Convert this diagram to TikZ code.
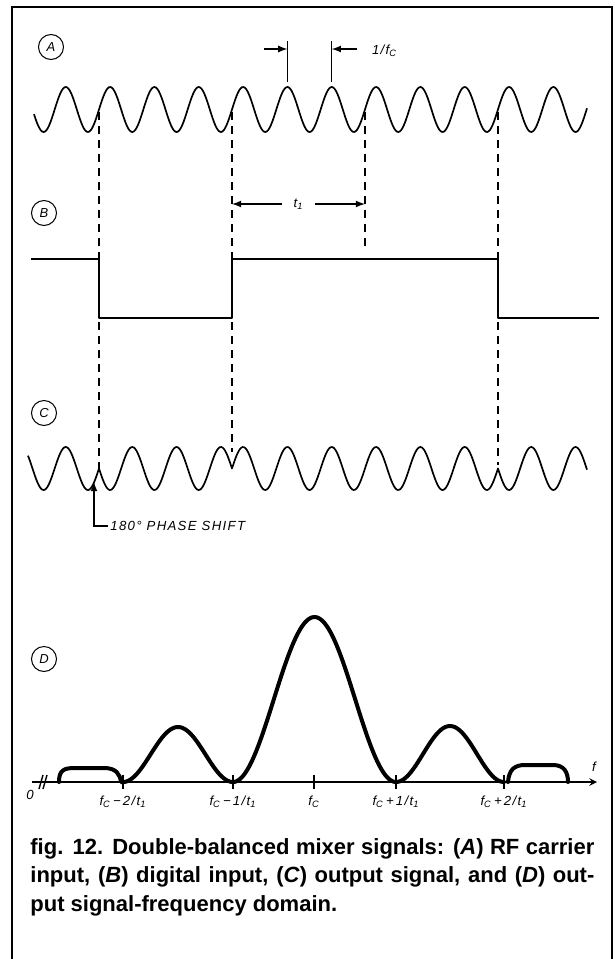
\documentclass[tikz,border=0pt]{standalone}
\usepackage{fontspec}
\setmainfont{Liberation Sans}
\newfontfamily\lblfont[LetterSpace=10]{Liberation Sans}
\usetikzlibrary{arrows, positioning, calc}
\tikzstyle{frame}=[line width=1pt]
\tikzstyle{wave}=[line width=0.85pt, line join=round]
\tikzstyle{guide}=[line width=0.6pt, dash pattern=on 4pt off 3pt]
\tikzstyle{spec}=[line width=2pt, line join=round, line cap=round]
\tikzstyle{axis}=[line width=0.7pt]
\tikzstyle{dim}=[line width=0.6pt, >=latex]
\tikzstyle{tag}=[draw, circle, line width=0.5pt, minimum size=12.5pt, inner sep=0pt,
  font=\lblfont\itshape\fontsize{6.5}{6.5}\selectfont]
\tikzstyle{lbl}=[font=\lblfont\itshape\fontsize{6.6}{7.5}\selectfont, inner sep=1pt]
\def\per{44.33}
\def\xo{99}

\begin{document}
\begin{tikzpicture}[x=0.5pt, y=-0.5pt]
      \useasboundingbox (0,0) rectangle (615,959);
      \draw[frame] (12,959) -- (12,7) -- (612,7) -- (612,959);

      % (A) carrier
      \node[tag] (tagA) at (51,47) {A};
      \draw[wave] plot[domain=34:587, samples=400]
        (\x,{109.5-22.5*sin(360/\per*(\x-\xo))});

      \coordinate (pk1) at (287.4,82);
      \coordinate (pk2) at (331.7,82);
      \draw[dim] (pk1) -- ++(0,-41);
      \draw[dim] (pk2) -- ++(0,-41);
      \draw[dim,->] ($(pk1)+(-23,-33)$) -- ($(pk1)+(0,-33)$);
      \draw[dim,->] ($(pk2)+(25,-33)$) -- ($(pk2)+(0,-33)$);
      \node[lbl, right=0pt] (period) at ($(pk2)+(38,-31)$) {1/f\textsubscript{C}};

      % guides
      \foreach \gx/\gy in {99/468, 232/452, 365/247, 498/465}
      \draw[guide] (\gx,112) -- (\gx,\gy);

      % (B) digital input
      \node[tag] (tagB) at (44,213) {B};
      \draw[wave] (31,259) -- (99,259) -- (99,318) -- (232,318) -- (232,259)
        -- (498,259) -- (498,318) -- (599,318);
      \coordinate (bitL) at (232,204);
      \coordinate (bitR) at (365,204);
      \draw[dim,<->] (bitL) -- (bitR)
        node[midway, lbl, fill=white, inner xsep=6pt] (bit) {t\textsubscript{1}};

      % (C) output
      \node[tag] (tagC) at (44,413) {C};
      \draw[wave]
        plot[domain=28:99, samples=60] (\x,{468.5-21.5*sin(360/\per*(\x-\xo))})
        -- plot[domain=99:232, samples=100] (\x,{468.5+21.5*sin(360/\per*(\x-\xo))})
        -- plot[domain=232:498, samples=200] (\x,{468.5-21.5*sin(360/\per*(\x-\xo))})
        -- plot[domain=498:587, samples=70] (\x,{468.5+21.5*sin(360/\per*(\x-\xo))});
      \coordinate (cusp) at (94,482);
      \node[lbl, anchor=west] (shift) at (108,526) {180° PHASE SHIFT};
      \draw[dim,->] (shift.west) -| (cusp);

      % (D) spectrum
      \node[tag] (tagD) at (44,659) {D};
      \draw[axis,->,>=stealth] (32,782) -- (597,782);
      \draw[axis] (39,789) -- (43,775);
      \draw[axis] (43,789) -- (47,775);
      \node[lbl] (zero) at (30,795) {0};
      \node[lbl] (freq) at (594,767) {f};
      \foreach \tx/\tt in {123/{f\textsubscript{C}\,−\,2/t\textsubscript{1}},
                           233/{f\textsubscript{C}\,−\,1/t\textsubscript{1}},
                           314/{f\textsubscript{C}},
                           396/{f\textsubscript{C}\,+\,1/t\textsubscript{1}},
                           504/{f\textsubscript{C}\,+\,2/t\textsubscript{1}}}
      {
        \draw[axis] (\tx,775) -- (\tx,789);
        \node[lbl] (tick\tx) at (\tx,802) {\tt};
      }
      \draw[spec] (59,782) .. controls (59,770) and (64,768) .. (75,768) -- (104,768)
        .. controls (116,768) and (120,774) .. (121,782)
        -- plot[domain=123:233, samples=60] (\x,{782-55*sin(180/110*(\x-123))^2})
        -- plot[domain=233:396, samples=90] (\x,{782-165*cos(180/163*(\x-314.5))^2})
        -- plot[domain=396:504, samples=60] (\x,{782-56*sin(180/108*(\x-396))^2});
      \draw[spec] (508,782) .. controls (509,770) and (514,765) .. (525,765) -- (553,765)
        .. controls (564,765) and (568,772) .. (568,782);

      % caption
      \node[anchor=base west, text width=282pt, align=justify, inner sep=0pt,
        font=\bfseries\fontsize{11}{14.25}\selectfont] (caption) at (30,854)
        {fig. 12. Double-balanced mixer signals: (\textit{A}) RF carrier\linebreak
         input, (\textit{B}) digital input, (\textit{C}) output signal, and (\textit{D}) out-\linebreak
         put signal-frequency domain.};
\end{tikzpicture}
\end{document}
